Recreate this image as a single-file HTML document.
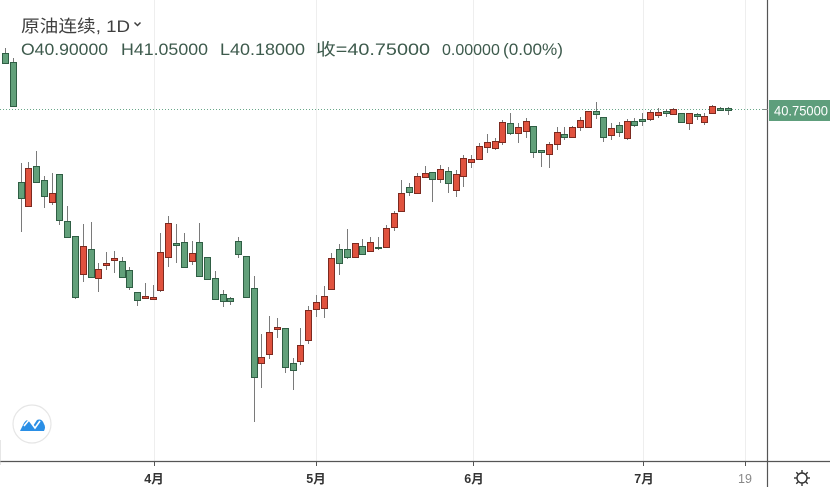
<!DOCTYPE html>
<html><head><meta charset="utf-8">
<style>
html,body{margin:0;padding:0;background:#fff;}
body{width:830px;height:487px;overflow:hidden;position:relative;font-family:"Liberation Sans","Noto Sans CJK SC",sans-serif;}
svg{position:absolute;left:0;top:0;}
</style></head><body>
<svg width="830" height="487" viewBox="0 0 830 487" xmlns="http://www.w3.org/2000/svg">
<g stroke="#eeeeee" stroke-width="1">
<line x1="154.5" y1="0" x2="154.5" y2="461"/>
<line x1="316.5" y1="0" x2="316.5" y2="461"/>
<line x1="473.5" y1="0" x2="473.5" y2="461"/>
<line x1="643.5" y1="0" x2="643.5" y2="461"/>
<line x1="745.5" y1="0" x2="745.5" y2="461"/>
</g>
<line x1="0" y1="109.5" x2="767" y2="109.5" stroke="#6aa88a" stroke-width="1" stroke-dasharray="1,2"/>
<g stroke="#7a7a7a" stroke-width="1">
<line x1="5.5" y1="48" x2="5.5" y2="63"/><line x1="13.5" y1="58" x2="13.5" y2="107"/><line x1="21.5" y1="163" x2="21.5" y2="232"/><line x1="28.5" y1="162" x2="28.5" y2="206"/><line x1="36.5" y1="151" x2="36.5" y2="183"/><line x1="44.5" y1="176" x2="44.5" y2="208"/><line x1="52.5" y1="173" x2="52.5" y2="205"/><line x1="59.5" y1="174" x2="59.5" y2="225"/><line x1="67.5" y1="206" x2="67.5" y2="238"/><line x1="75.5" y1="236" x2="75.5" y2="299"/><line x1="83.5" y1="224" x2="83.5" y2="282"/><line x1="91.5" y1="222" x2="91.5" y2="277"/><line x1="98.5" y1="263" x2="98.5" y2="292"/><line x1="106.5" y1="252" x2="106.5" y2="270"/><line x1="114.5" y1="251" x2="114.5" y2="273"/><line x1="122.5" y1="257" x2="122.5" y2="278"/><line x1="129.5" y1="267" x2="129.5" y2="290"/><line x1="137.5" y1="292" x2="137.5" y2="306"/><line x1="145.5" y1="283" x2="145.5" y2="298"/><line x1="153.5" y1="285" x2="153.5" y2="300"/><line x1="160.5" y1="233" x2="160.5" y2="292"/><line x1="168.5" y1="216" x2="168.5" y2="267"/><line x1="176.5" y1="224" x2="176.5" y2="263"/><line x1="184.5" y1="233" x2="184.5" y2="268"/><line x1="192.5" y1="241" x2="192.5" y2="265"/><line x1="199.5" y1="223" x2="199.5" y2="276"/><line x1="207.5" y1="257" x2="207.5" y2="280"/><line x1="215.5" y1="271" x2="215.5" y2="300"/><line x1="223.5" y1="290" x2="223.5" y2="307"/><line x1="230.5" y1="297" x2="230.5" y2="305"/><line x1="238.5" y1="237" x2="238.5" y2="258"/><line x1="246.5" y1="256" x2="246.5" y2="297"/><line x1="254.5" y1="276" x2="254.5" y2="422"/><line x1="261.5" y1="334" x2="261.5" y2="388"/><line x1="269.5" y1="316" x2="269.5" y2="359"/><line x1="277.5" y1="318" x2="277.5" y2="338"/><line x1="285.5" y1="328" x2="285.5" y2="373"/><line x1="293.5" y1="358" x2="293.5" y2="390"/><line x1="300.5" y1="328" x2="300.5" y2="365"/><line x1="308.5" y1="306" x2="308.5" y2="344"/><line x1="316.5" y1="295" x2="316.5" y2="317"/><line x1="324.5" y1="286" x2="324.5" y2="318"/><line x1="331.5" y1="253" x2="331.5" y2="289"/><line x1="339.5" y1="244" x2="339.5" y2="275"/><line x1="347.5" y1="229" x2="347.5" y2="259"/><line x1="355.5" y1="243" x2="355.5" y2="257"/><line x1="362.5" y1="239" x2="362.5" y2="254"/><line x1="370.5" y1="237" x2="370.5" y2="251"/><line x1="378.5" y1="237" x2="378.5" y2="250"/><line x1="386.5" y1="225" x2="386.5" y2="248"/><line x1="394.5" y1="211" x2="394.5" y2="231"/><line x1="401.5" y1="180" x2="401.5" y2="211"/><line x1="409.5" y1="183" x2="409.5" y2="196"/><line x1="417.5" y1="173" x2="417.5" y2="193"/><line x1="425.5" y1="166" x2="425.5" y2="177"/><line x1="432.5" y1="172" x2="432.5" y2="202"/><line x1="440.5" y1="165" x2="440.5" y2="183"/><line x1="448.5" y1="167" x2="448.5" y2="193"/><line x1="456.5" y1="170" x2="456.5" y2="197"/><line x1="463.5" y1="155" x2="463.5" y2="187"/><line x1="471.5" y1="155" x2="471.5" y2="168"/><line x1="479.5" y1="143" x2="479.5" y2="160"/><line x1="487.5" y1="134" x2="487.5" y2="153"/><line x1="495.5" y1="138" x2="495.5" y2="150"/><line x1="502.5" y1="120" x2="502.5" y2="145"/><line x1="510.5" y1="113" x2="510.5" y2="135"/><line x1="518.5" y1="123" x2="518.5" y2="143"/><line x1="526.5" y1="118" x2="526.5" y2="138"/><line x1="533.5" y1="126" x2="533.5" y2="158"/><line x1="541.5" y1="150" x2="541.5" y2="167"/><line x1="549.5" y1="142" x2="549.5" y2="168"/><line x1="557.5" y1="127" x2="557.5" y2="150"/><line x1="564.5" y1="127" x2="564.5" y2="140"/><line x1="572.5" y1="126" x2="572.5" y2="138"/><line x1="580.5" y1="117" x2="580.5" y2="131"/><line x1="588.5" y1="111" x2="588.5" y2="127"/><line x1="596.5" y1="102" x2="596.5" y2="119"/><line x1="603.5" y1="117" x2="603.5" y2="142"/><line x1="611.5" y1="123" x2="611.5" y2="140"/><line x1="619.5" y1="122" x2="619.5" y2="137"/><line x1="627.5" y1="119" x2="627.5" y2="140"/><line x1="634.5" y1="118" x2="634.5" y2="127"/><line x1="642.5" y1="113" x2="642.5" y2="126"/><line x1="650.5" y1="110" x2="650.5" y2="121"/><line x1="658.5" y1="108" x2="658.5" y2="118"/><line x1="666.5" y1="109" x2="666.5" y2="117"/><line x1="673.5" y1="108" x2="673.5" y2="115"/><line x1="681.5" y1="113" x2="681.5" y2="122"/><line x1="689.5" y1="113" x2="689.5" y2="130"/><line x1="697.5" y1="113" x2="697.5" y2="120"/><line x1="704.5" y1="113" x2="704.5" y2="125"/><line x1="712.5" y1="105" x2="712.5" y2="113"/><line x1="720.5" y1="107" x2="720.5" y2="111"/><line x1="728.5" y1="107" x2="728.5" y2="115"/>
</g>
<g fill="#62a07a" stroke="#2f5e44" stroke-width="1">
<rect x="2.5" y="53.5" width="6" height="10"/><rect x="10.5" y="62.5" width="6" height="44"/><rect x="18.5" y="182.5" width="6" height="16"/><rect x="33.5" y="166.5" width="6" height="16"/><rect x="41.5" y="180.5" width="6" height="16"/><rect x="56.5" y="174.5" width="6" height="46"/><rect x="64.5" y="221.5" width="6" height="16"/><rect x="72.5" y="236.5" width="6" height="61"/><rect x="88.5" y="249.5" width="6" height="28"/><rect x="119.5" y="261.5" width="6" height="16"/><rect x="126.5" y="270.5" width="6" height="17"/><rect x="134.5" y="292.5" width="6" height="8"/><rect x="173.5" y="243.5" width="6" height="2"/><rect x="181.5" y="242.5" width="6" height="25"/><rect x="196.5" y="242.5" width="6" height="34"/><rect x="204.5" y="257.5" width="6" height="22"/><rect x="212.5" y="278.5" width="6" height="21"/><rect x="220.5" y="294.5" width="6" height="7"/><rect x="227.5" y="298.5" width="6" height="3"/><rect x="235.5" y="241.5" width="6" height="13"/><rect x="243.5" y="256.5" width="6" height="41"/><rect x="251.5" y="288.5" width="6" height="89"/><rect x="282.5" y="328.5" width="6" height="39"/><rect x="290.5" y="363.5" width="6" height="7"/><rect x="336.5" y="249.5" width="6" height="14"/><rect x="344.5" y="249.5" width="6" height="8"/><rect x="359.5" y="246.5" width="6" height="8"/><rect x="375.5" y="247.5" width="6" height="1"/><rect x="406.5" y="187.5" width="6" height="5"/><rect x="429.5" y="172.5" width="6" height="7"/><rect x="445.5" y="171.5" width="6" height="12"/><rect x="507.5" y="123.5" width="6" height="10"/><rect x="530.5" y="126.5" width="6" height="26"/><rect x="538.5" y="150.5" width="6" height="2"/><rect x="561.5" y="134.5" width="6" height="3"/><rect x="593.5" y="111.5" width="6" height="3"/><rect x="600.5" y="117.5" width="6" height="20"/><rect x="616.5" y="125.5" width="6" height="7"/><rect x="631.5" y="121.5" width="6" height="4"/><rect x="639.5" y="119.5" width="6" height="2"/><rect x="663.5" y="111.5" width="6" height="2"/><rect x="678.5" y="113.5" width="6" height="9"/><rect x="694.5" y="114.5" width="6" height="2"/><rect x="717.5" y="108.5" width="6" height="2"/><rect x="725.5" y="108.5" width="6" height="2"/>
</g>
<g fill="#e0523e" stroke="#7c2a20" stroke-width="1">
<rect x="25.5" y="168.5" width="6" height="38"/><rect x="49.5" y="193.5" width="6" height="9"/><rect x="80.5" y="246.5" width="6" height="28"/><rect x="95.5" y="269.5" width="6" height="9"/><rect x="103.5" y="263.5" width="6" height="2"/><rect x="111.5" y="258.5" width="6" height="2"/><rect x="142.5" y="296.5" width="6" height="2"/><rect x="150.5" y="297.5" width="6" height="2"/><rect x="157.5" y="252.5" width="6" height="38"/><rect x="165.5" y="223.5" width="6" height="34"/><rect x="189.5" y="253.5" width="6" height="8"/><rect x="258.5" y="357.5" width="6" height="6"/><rect x="266.5" y="332.5" width="6" height="22"/><rect x="274.5" y="327.5" width="6" height="2"/><rect x="297.5" y="345.5" width="6" height="16"/><rect x="305.5" y="310.5" width="6" height="30"/><rect x="313.5" y="302.5" width="6" height="7"/><rect x="321.5" y="296.5" width="6" height="12"/><rect x="328.5" y="258.5" width="6" height="31"/><rect x="352.5" y="243.5" width="6" height="14"/><rect x="367.5" y="242.5" width="6" height="9"/><rect x="383.5" y="228.5" width="6" height="19"/><rect x="391.5" y="213.5" width="6" height="14"/><rect x="398.5" y="193.5" width="6" height="18"/><rect x="414.5" y="176.5" width="6" height="17"/><rect x="422.5" y="173.5" width="6" height="4"/><rect x="437.5" y="169.5" width="6" height="10"/><rect x="453.5" y="174.5" width="6" height="16"/><rect x="460.5" y="158.5" width="6" height="18"/><rect x="468.5" y="159.5" width="6" height="3"/><rect x="476.5" y="146.5" width="6" height="13"/><rect x="484.5" y="142.5" width="6" height="5"/><rect x="492.5" y="141.5" width="6" height="7"/><rect x="499.5" y="122.5" width="6" height="20"/><rect x="515.5" y="127.5" width="6" height="6"/><rect x="523.5" y="121.5" width="6" height="10"/><rect x="546.5" y="144.5" width="6" height="10"/><rect x="554.5" y="132.5" width="6" height="12"/><rect x="569.5" y="127.5" width="6" height="10"/><rect x="577.5" y="120.5" width="6" height="7"/><rect x="585.5" y="111.5" width="6" height="16"/><rect x="608.5" y="128.5" width="6" height="7"/><rect x="624.5" y="121.5" width="6" height="17"/><rect x="647.5" y="112.5" width="6" height="7"/><rect x="655.5" y="112.5" width="6" height="3"/><rect x="670.5" y="109.5" width="6" height="5"/><rect x="686.5" y="113.5" width="6" height="10"/><rect x="701.5" y="116.5" width="6" height="6"/><rect x="709.5" y="106.5" width="6" height="7"/>
</g>
<!-- axes -->
<line x1="0" y1="461.5" x2="830" y2="461.5" stroke="#555" stroke-width="1.2"/>
<line x1="767.5" y1="0" x2="767.5" y2="487" stroke="#555" stroke-width="1.2"/>
<g stroke="#555" stroke-width="1">
<line x1="154.5" y1="461" x2="154.5" y2="466"/>
<line x1="316.5" y1="461" x2="316.5" y2="466"/>
<line x1="473.5" y1="461" x2="473.5" y2="466"/>
<line x1="643.5" y1="461" x2="643.5" y2="466"/>
<line x1="745.5" y1="461" x2="745.5" y2="466"/>
</g>
<line x1="0" y1="440" x2="0" y2="465" stroke="#ccc"/>
<!-- price label -->
<line x1="763" y1="109.5" x2="768" y2="109.5" stroke="#888"/>
<rect x="769" y="100" width="61" height="21" fill="#5e9e7c"/>
<text x="774" y="115.5" font-family="Liberation Sans, sans-serif" font-size="14" fill="#fff" textLength="54" lengthAdjust="spacingAndGlyphs">40.75000</text>
<!-- axis labels -->
<g font-family="Liberation Sans, Noto Sans CJK SC, sans-serif" font-size="12.5" font-weight="bold" fill="#333" text-anchor="middle">
<text x="154" y="483">4月</text>
<text x="316" y="483">5月</text>
<text x="474" y="483">6月</text>
<text x="644" y="483">7月</text>
</g>
<text x="745" y="483" font-family="Liberation Sans, sans-serif" font-size="12.5" fill="#888" text-anchor="middle">19</text>
<!-- gear -->
<g transform="translate(802,478)" stroke="#333" stroke-width="1.4" fill="none">
<circle r="5"/>
<line x1="0" y1="-8" x2="0" y2="-5.5"/><line x1="0" y1="5.5" x2="0" y2="8"/>
<line x1="-8" y1="0" x2="-5.5" y2="0"/><line x1="5.5" y1="0" x2="8" y2="0"/>
<line x1="-5.7" y1="-5.7" x2="-3.9" y2="-3.9"/><line x1="3.9" y1="3.9" x2="5.7" y2="5.7"/>
<line x1="5.7" y1="-5.7" x2="3.9" y2="-3.9"/><line x1="-3.9" y1="3.9" x2="-5.7" y2="5.7"/>
</g>
<!-- logo -->
<circle cx="32" cy="424" r="19" fill="#fff" stroke="#e6e6e6" stroke-width="1.2"/>
<path d="M20 431 L24 423 Q27 418 30 422 L33 426 L37 420 Q42 418 44 424 Q46 427 44 431 Z" fill="#2a8fe6"/>
<path d="M24 426 L29 420 L35 428 L40 421" stroke="#fff" stroke-width="1.6" fill="none"/>
<!-- legend -->
<g font-family="Liberation Sans, Noto Sans CJK SC, sans-serif">
<text x="21" y="32" font-size="17" fill="#3f3f3f" textLength="109" lengthAdjust="spacingAndGlyphs">原油连续, 1D</text>
<path d="M134.5 22.5 L137.5 25.5 L140.5 22.5" stroke="#3f3f3f" stroke-width="1.5" fill="none"/>
<g font-size="16.5" fill="#3d5a4c">
<text x="21" y="55" textLength="87" lengthAdjust="spacingAndGlyphs">O40.90000</text>
<text x="121" y="55" textLength="87" lengthAdjust="spacingAndGlyphs">H41.05000</text>
<text x="220" y="55" textLength="85" lengthAdjust="spacingAndGlyphs">L40.18000</text>
<text x="316" y="55" textLength="114" lengthAdjust="spacingAndGlyphs">收=40.75000</text>
<text x="442" y="55" font-size="16">0.00000</text>
<text x="503" y="55" textLength="60" lengthAdjust="spacingAndGlyphs">(0.00%)</text>
</g>
</g>
</svg>
</body></html>
